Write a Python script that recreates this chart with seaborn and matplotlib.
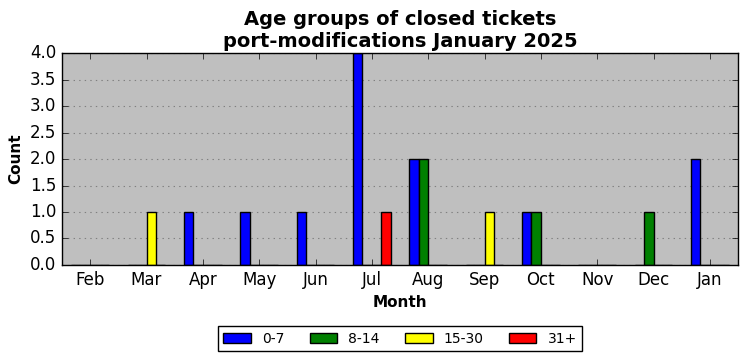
import seaborn as sns
import matplotlib.pyplot as plt
import pandas as pd

# data
months = ["Feb", "Mar", "Apr", "May", "Jun", "Jul", "Aug", "Sep", "Oct", "Nov", "Dec", "Jan"]
age_groups = ["0-7", "8-14", "15-30", "31+"]
count_0_7 = [0, 0, 1, 1, 1, 4, 2, 0, 1, 0, 0, 2]
count_8_14 = [0, 0, 0, 0, 0, 0, 2, 0, 1, 0, 1, 0]
count_15_30 = [0, 1, 0, 0, 0, 0, 0, 1, 0, 0, 0, 0]
count_31p = [0, 0, 0, 0, 0, 1, 0, 0, 0, 0, 0, 0]
colors = ["blue", "green", "yellow", "red"]

rows = []
for grp, vals in zip(age_groups, [count_0_7, count_8_14, count_15_30, count_31p]):
    for m, v in zip(months, vals):
        rows.append({"Month": m, "Age": grp, "Count": v})
df = pd.DataFrame(rows)

plt.style.use("classic")
fig = plt.figure(figsize=(7.47, 3.61), dpi=100)
ax = fig.add_axes([0.083, 0.266, 0.905, 0.587])
ax.set_facecolor("#bfbfbf")

sns.barplot(data=df, x="Month", y="Count", hue="Age", order=months,
            hue_order=age_groups, palette=colors, saturation=1, width=2/3,
            edgecolor="black", linewidth=1, ax=ax)

ax.set_xlim(-0.5, 11.5)
ax.set_ylim(0, 4)
ax.set_yticks([i * 0.5 for i in range(9)])
ax.yaxis.grid(True, linestyle=":", color="#808080", linewidth=0.8)
ax.set_axisbelow(True)
ax.set_title("Age groups of closed tickets\nport-modifications January 2025",
             fontsize=14, fontweight="bold", y=0.995)
ax.set_xlabel("Month", fontsize=11, fontweight="bold")
ax.set_ylabel("Count", fontsize=11, fontweight="bold")
ax.tick_params(labelsize=12)

sns.move_legend(ax, "upper center", bbox_to_anchor=(0.5, -0.255), ncol=4,
                title=None, frameon=True, fontsize=10, fancybox=False,
                columnspacing=1.8)

plt.savefig("out.png", dpi=100)
plt.close()
